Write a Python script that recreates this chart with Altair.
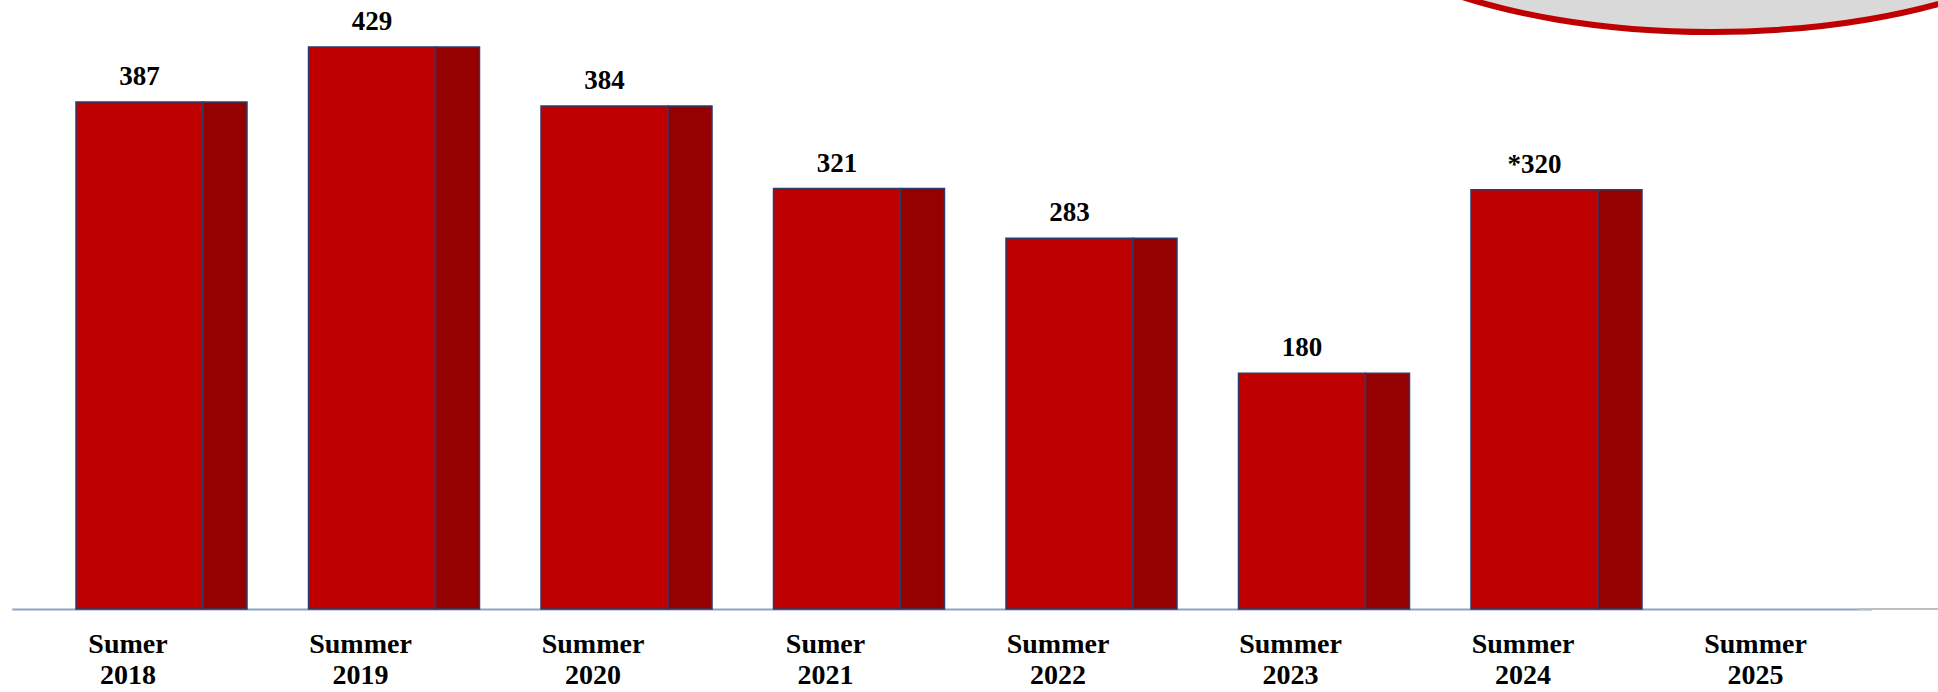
import altair as alt
import pandas as pd

# Seasonal totals (2025 has no figure yet)
seasons = ["Sumer 2018", "Summer 2019", "Summer 2020", "Sumer 2021",
           "Summer 2022", "Summer 2023", "Summer 2024", "Summer 2025"]
counts = [387, 429, 384, 321, 283, 180, 320, None]
count_labels = ["387", "429", "384", "321", "283", "180", "*320", ""]

df = pd.DataFrame({"season": seasons, "count": counts, "label": count_labels})

FRONT = "#bf0000"
SIDE = "#950000"
EDGE = "#2f3b6b"
SERIF = "Liberation Serif"

x = alt.X(
    "season:N",
    sort=seasons,
    scale=alt.Scale(range=[11.75, 1871.75], paddingInner=0, paddingOuter=0),
    axis=alt.Axis(
        title=None,
        labelAngle=0,
        labelExpr="split(datum.label, ' ')",
        labelFont=SERIF,
        labelFontWeight="bold",
        labelFontSize=28,
        labelColor="black",
        labelBaseline="alphabetic",
        labelLineHeight=31,
        labelPadding=43,
        ticks=False,
        tickSize=0,
        domainColor="#8ea3c8",
        domainWidth=2,
        grid=False,
    ),
)
y = alt.Y("count:Q", scale=alt.Scale(domain=[0, 464.9], nice=False, zero=True), axis=None)

base = alt.Chart(df)

front = base.mark_bar(width=127, xOffset=11.5, color=FRONT, stroke=EDGE, strokeWidth=1.5).encode(x=x, y=y)
side = base.mark_bar(width=44, xOffset=97, color=SIDE, stroke=EDGE, strokeWidth=1.5).encode(x=x, y=y)

values = base.mark_text(
    dy=-17, xOffset=11.5, baseline="alphabetic", align="center",
    font=SERIF, fontWeight="bold", fontSize=27, color="black",
).encode(x=x, y=y, text="label:N")

# grey continuation of the baseline to the right edge
tail = base.mark_rule(color="#bfbfbf", strokeWidth=2).encode(
    x=alt.value(1858), x2=alt.value(1938), y=alt.value(609)
)

# callout bubble in the top-right corner, mostly above the frame
ellipse_path = "M -1 0 A 1 0.4 0 1 0 1 0 A 1 0.4 0 1 0 -1 0 Z"
bubble = alt.Chart(pd.DataFrame({"k": [0]})).mark_point(
    shape=ellipse_path, size=640000, filled=True, fill="#d9d9d9",
    stroke="#c00000", strokeWidth=6, opacity=1,
).encode(x=alt.value(1712), y=alt.value(-128))

chart = alt.layer(front, side, values, tail, bubble).properties(
    width=1938,
    height=609,
    padding={"left": 0, "right": 0, "top": 0, "bottom": 83},
    autosize=alt.AutoSizeParams(type="none"),
    background="white",
).configure_view(stroke=None)

chart.save("out.html", embed_options={"renderer": "svg", "actions": False})
